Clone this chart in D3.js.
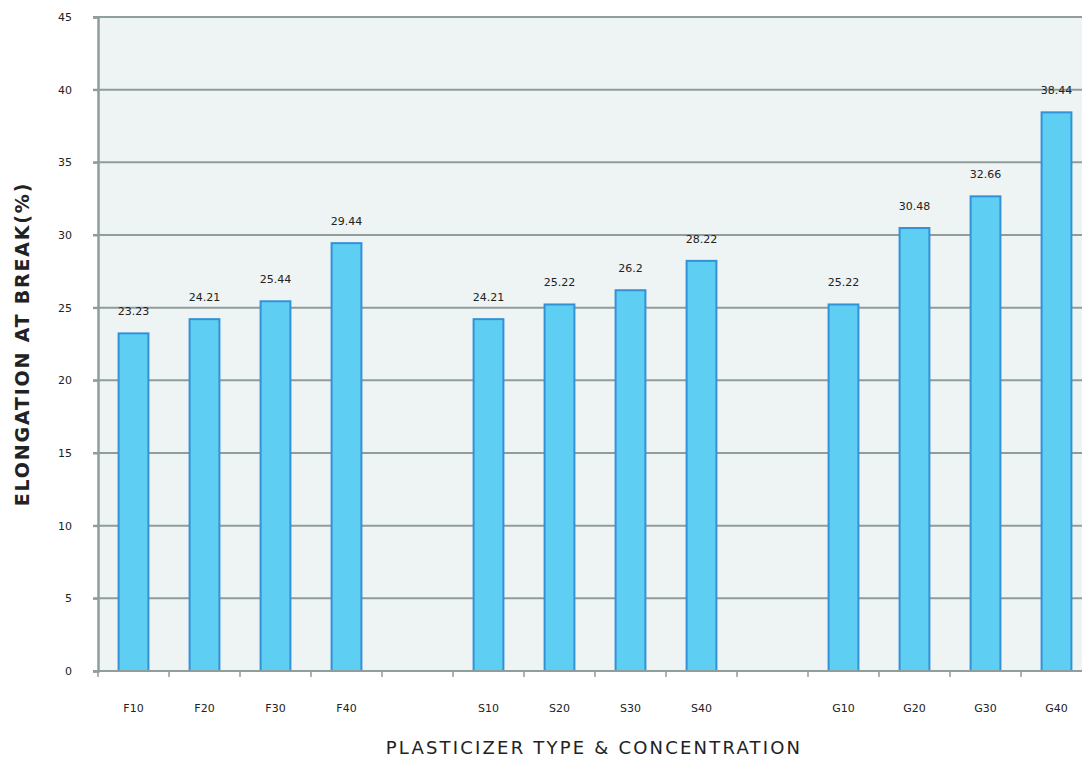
<!DOCTYPE html>
<html>
<head>
<meta charset="utf-8">
<script src="https://cdn.jsdelivr.net/npm/d3@7"></script>
<style>
  body { margin: 0; background: #fff; }
  text { font-family: "DejaVu Sans", sans-serif; fill: #222; }
</style>
</head>
<body>
<script>
// Data
const categories = ["F10", "F20", "F30", "F40", "gap1", "S10", "S20", "S30", "S40", "gap2", "G10", "G20", "G30", "G40"];
const values = [23.23, 24.21, 25.44, 29.44, null, 24.21, 25.22, 26.2, 28.22, null, 25.22, 30.48, 32.66, 38.44];
const valueLabels = ["23.23", "24.21", "25.44", "29.44", "", "24.21", "25.22", "26.2", "28.22", "", "25.22", "30.48", "32.66", "38.44"];
const yTicks = [0, 5, 10, 15, 20, 25, 30, 35, 40, 45];

const width = 1082, height = 762;
const plotLeft = 98, plotRight = 1092, plotTop = 17, plotBottom = 671;

const svg = d3.select("body").append("svg")
  .attr("width", width)
  .attr("height", height);

// Scales
const x = d3.scaleBand()
  .domain(categories)
  .range([plotLeft, plotRight])
  .paddingInner(0.58)
  .paddingOuter(0.29);

const y = d3.scaleLinear()
  .domain([0, 45])
  .range([plotBottom, plotTop]);

// Plot background
svg.append("rect")
  .attr("x", plotLeft)
  .attr("y", plotTop)
  .attr("width", plotRight - plotLeft)
  .attr("height", plotBottom - plotTop)
  .attr("fill", "#eef3f3");

// Gridlines
svg.append("g")
  .selectAll("line")
  .data(yTicks.filter(d => d > 0))
  .join("line")
  .attr("x1", plotLeft - 5)
  .attr("x2", plotRight)
  .attr("y1", d => y(d))
  .attr("y2", d => y(d))
  .attr("stroke", "#8f9d9d")
  .attr("stroke-width", 2);

// Bars
const data = categories.map((c, i) => ({ cat: c, v: values[i], label: valueLabels[i] }))
  .filter(d => d.v !== null);

svg.append("g")
  .selectAll("rect")
  .data(data)
  .join("rect")
  .attr("x", d => x(d.cat))
  .attr("y", d => y(d.v))
  .attr("width", x.bandwidth())
  .attr("height", d => y(0) - y(d.v))
  .attr("fill", "#5ecff3")
  .attr("stroke", "#3391d8")
  .attr("stroke-width", 2);

// Value labels
svg.append("g")
  .selectAll("text")
  .data(data)
  .join("text")
  .attr("x", d => x(d.cat) + x.bandwidth() / 2)
  .attr("y", d => y(d.v) - 18)
  .attr("text-anchor", "middle")
  .attr("font-size", 11)
  .text(d => d.label);

// Y axis
const yAxis = svg.append("g")
  .attr("transform", `translate(${plotLeft},0)`)
  .call(d3.axisLeft(y).tickValues(yTicks).tickSize(5).tickPadding(21));
yAxis.select(".domain").attr("stroke", "#8f9d9d").attr("stroke-width", 2.5);
yAxis.selectAll(".tick line").attr("stroke", "#8f9d9d").attr("stroke-width", 2);
yAxis.selectAll(".tick text")
  .attr("font-family", "DejaVu Sans, sans-serif")
  .attr("font-size", 11)
  .attr("fill", "#222");

// X axis: ticks on band boundaries
const xAxis = svg.append("g");
xAxis.append("line")
  .attr("x1", plotLeft - 5)
  .attr("x2", plotRight)
  .attr("y1", plotBottom)
  .attr("y2", plotBottom)
  .attr("stroke", "#8f9d9d")
  .attr("stroke-width", 2);

const step = x.step();
const boundaries = categories.map((c, i) => i).concat([categories.length]);
xAxis.selectAll("line.tick")
  .data(boundaries)
  .join("line")
  .attr("class", "tick")
  .attr("x1", i => plotLeft + i * step)
  .attr("x2", i => plotLeft + i * step)
  .attr("y1", plotBottom)
  .attr("y2", plotBottom + 6)
  .attr("stroke", "#8f9d9d")
  .attr("stroke-width", 1.5);

xAxis.selectAll("text")
  .data(categories.filter(c => !c.startsWith("gap")))
  .join("text")
  .attr("x", c => x(c) + x.bandwidth() / 2)
  .attr("y", 712)
  .attr("text-anchor", "middle")
  .attr("font-size", 11)
  .text(c => c);

// Axis titles
svg.append("text")
  .attr("x", 594)
  .attr("y", 754)
  .attr("text-anchor", "middle")
  .attr("font-size", 18)
  .attr("letter-spacing", 2.2)
  .text("PLASTICIZER TYPE & CONCENTRATION");

svg.append("text")
  .attr("transform", "translate(29,344) rotate(-90)")
  .attr("text-anchor", "middle")
  .attr("font-size", 19)
  .attr("font-weight", "bold")
  .attr("letter-spacing", 1.8)
  .text("ELONGATION AT BREAK(%)");
</script>
</body>
</html>
